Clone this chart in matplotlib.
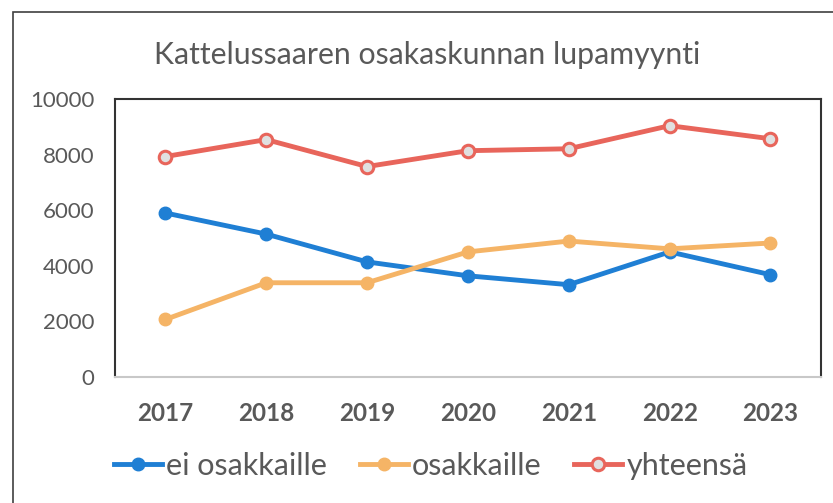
import numpy as np
import matplotlib.pyplot as plt
from matplotlib.patches import Rectangle

# lupamyynti vuosittain
vuodet = ["2017", "2018", "2019", "2020", "2021", "2022", "2023"]
ei_osakkaille = [5900, 5140, 4140, 3640, 3320, 4500, 3680]
osakkaille = [2070, 3390, 3390, 4500, 4890, 4610, 4820]
yhteensa = [7930, 8540, 7570, 8140, 8210, 9040, 8570]

plt.rcParams['font.family'] = ['Lato', 'DejaVu Sans']
harmaa = '#595959'

fig = plt.figure(figsize=(8.33, 5.03), dpi=100)
fig.patch.set_facecolor('white')

# kaavion ulkoreunus
fig.patches.append(Rectangle((0.016, -0.05), 1.1, 1.026, transform=fig.transFigure,
                             fill=False, edgecolor='#404040', linewidth=1.2))

ax = fig.add_axes([0.138, 0.2505, 0.8475, 0.5527])
x = np.arange(len(vuodet))

ax.plot(x, ei_osakkaille, color='#1f7fd4', linewidth=3.5, marker='o', markersize=9,
        markerfacecolor='#1f7fd4', markeredgecolor='#1f7fd4', label='ei osakkaille')
ax.plot(x, osakkaille, color='#f5b466', linewidth=3.5, marker='o', markersize=9,
        markerfacecolor='#f5b466', markeredgecolor='#f5b466', label='osakkaille')
ax.plot(x, yhteensa, color='#e8655b', linewidth=3.5, marker='o', markersize=9,
        markerfacecolor='#e0e0e0', markeredgecolor='#e8655b', markeredgewidth=2.2,
        label='yhteensä')

ax.set_xlim(-0.5, len(vuodet) - 0.5)
ax.set_ylim(0, 10000)
ax.set_xticks(x)
ax.set_xticklabels(vuodet, fontsize=17.5, fontweight='bold', color=harmaa)
ax.set_yticks(np.arange(0, 10001, 2000))
ax.tick_params(axis='y', labelsize=16, labelcolor=harmaa, length=0, pad=15)
ax.tick_params(axis='x', length=0, pad=18)

for s in ['left', 'top', 'right']:
    ax.spines[s].set_color('#333333')
    ax.spines[s].set_linewidth(1.5)
ax.spines['bottom'].set_color('#c8c8c8')
ax.spines['bottom'].set_linewidth(1.5)

fig.text(0.513, 0.89, 'Kattelussaaren osakaskunnan lupamyynti', ha='center', va='center',
         fontsize=21.8, color=harmaa)

fig.legend(loc='center', bbox_to_anchor=(0.517, 0.074), ncol=3, frameon=False,
           fontsize=22, labelcolor=harmaa, handlelength=1.57, handletextpad=0.13,
           columnspacing=1.08)

fig.savefig('out.png', dpi=100)
